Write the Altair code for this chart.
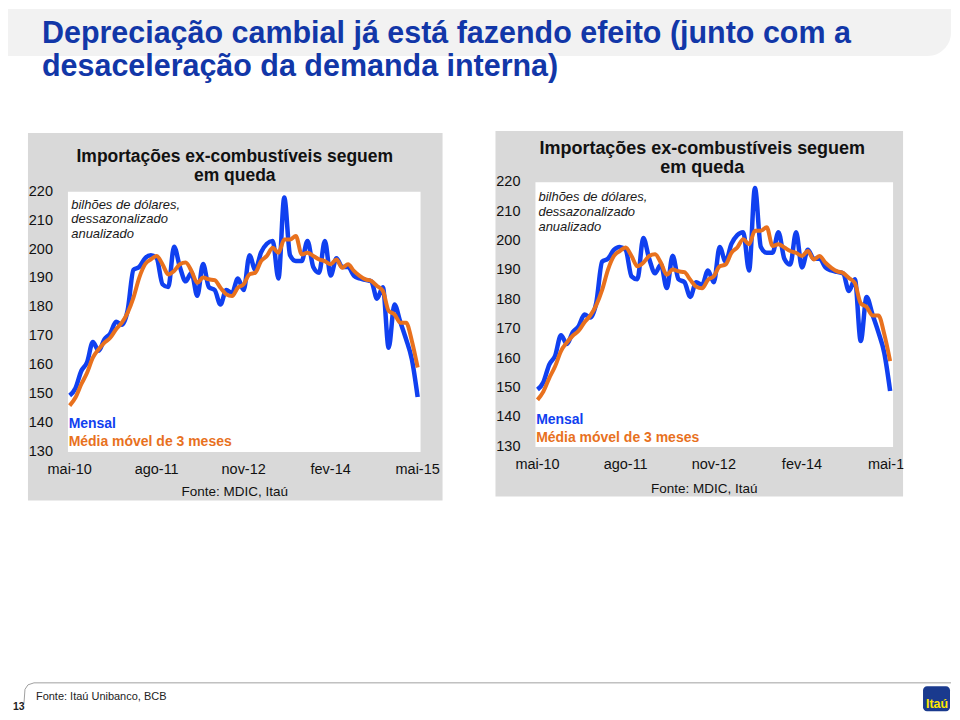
import altair as alt
import pandas as pd

# ---------------- data ----------------
mensal = [149.5, 152, 158, 161, 168, 165, 169, 171, 175, 174,
          179, 193, 194, 197, 198, 197, 188, 187, 201, 194,
          189, 192, 184, 195, 187, 186, 181, 186, 185, 190,
          186, 198, 193, 199, 202, 203, 190, 218, 198, 196,
          196, 203, 194, 192, 203, 191, 197, 194, 194, 191,
          190, 189.5, 189, 183, 187, 166, 181, 175, 169, 162,
          149]
media_movel = [146, 148.8, 153.4, 157.4, 162.6, 165.5, 167.8, 169.5, 172.4, 174.7,
               178.2, 183.4, 190.3, 194.9, 196.6, 197.8, 194.9, 191.4, 192.6, 194.9,
               195.5, 192.6, 188.5, 190.3, 189.7, 189.4, 186.8, 184.5, 183.9, 186.8,
               188, 191.4, 192, 196, 197.8, 200.6, 198.9, 203.5, 203.5, 204.7,
               198.3, 198.9, 197.8, 196.6, 196, 194.9, 196.6, 193.7, 194.9, 192.6,
               190.9, 189.7, 189.1, 187.4, 185.7, 178.8, 177.6, 174.7, 174.7, 168.4,
               159.2]
serie_nomes = ["Mensal", "Média móvel de 3 meses"]
x_tick_meses = [0, 15, 30, 45, 60]
x_tick_rotulos = ["mai-10", "ago-11", "nov-12", "fev-14", "mai-15"]
y_ticks = [130, 140, 150, 160, 170, 180, 190, 200, 210, 220]
y_faixa = [130, 220]

titulo = ["Depreciação cambial já está fazendo efeito (junto com a",
          "desaceleração da demanda interna)"]
painel_titulo = ["Importações ex-combustíveis seguem", "em queda"]
nota = ["bilhões de dólares,", "dessazonalizado", "anualizado"]
fonte_painel = "Fonte: MDIC, Itaú"
fonte_slide = "Fonte: Itaú Unibanco, BCB"
pagina = "13"
logo = "Itaú"

# ---------------- styles ----------------
BLUE = "#1040F0"
ORANGE = "#E8711E"
GRAY = "#D9D9D9"
TITLE_BLUE = "#1237A8"
FONT = "Liberation Sans"

meses = list(range(len(mensal)))
df = pd.DataFrame({
    "mes": meses + meses,
    "valor": mensal + media_movel,
    "serie": [serie_nomes[0]] * len(mensal) + [serie_nomes[1]] * len(media_movel),
})
ticks_y = pd.DataFrame({"v": y_ticks})
ticks_x = pd.DataFrame({"m": x_tick_meses, "rot": x_tick_rotulos})
faixa = pd.DataFrame({"lo": [y_faixa[0]], "hi": [y_faixa[1]]})


def one():
    return alt.Data(values=[{"k": 1}])


def txt(text, x, y, **kw):
    kw.setdefault("font", FONT)
    return alt.Chart(one()).mark_text(**kw).encode(
        x=alt.value(x), y=alt.value(y), text=alt.value(text))


def box(x, x2, y, y2, color, **kw):
    return alt.Chart(one()).mark_rect(color=color, **kw).encode(
        x=alt.value(x), x2=alt.value(x2), y=alt.value(y), y2=alt.value(y2))


def seg(x, x2, y, y2, color, w=1):
    return alt.Chart(one()).mark_rule(color=color, strokeWidth=w).encode(
        x=alt.value(x), x2=alt.value(x2), y=alt.value(y), y2=alt.value(y2))


def painel(g, extra_before=(), extra_after=()):
    ox, oy, w, h = g["ox"], g["oy"], g["w"], g["h"]
    P = lambda X: X - ox
    Q = lambda Y: Y - oy
    xs = alt.Scale(domain=g["xdom"], nice=False, zero=False)
    ys = alt.Scale(domain=g["ydom"], nice=False, zero=False)

    layers = list(extra_before)
    b = g["box"]
    layers.append(box(P(b[0]), P(b[1]), Q(b[2]), Q(b[3]), GRAY))
    layers.append(alt.Chart(faixa).mark_rect(color="white").encode(
        x=alt.value(0), x2=alt.value(w),
        y=alt.Y("hi:Q", scale=ys, axis=None), y2="lo:Q"))

    base = alt.Chart(df).encode(
        x=alt.X("mes:Q", scale=xs, axis=None),
        y=alt.Y("valor:Q", scale=ys, axis=None),
        color=alt.Color("serie:N", scale=alt.Scale(domain=serie_nomes, range=[BLUE, ORANGE]),
                        legend=None),
    )
    layers.append(base.transform_filter(alt.datum.serie == serie_nomes[0])
                  .mark_line(strokeWidth=4.5, interpolate="monotone"))
    layers.append(base.transform_filter(alt.datum.serie == serie_nomes[1])
                  .mark_line(strokeWidth=4, interpolate="monotone"))

    layers.append(alt.Chart(ticks_y).mark_text(
        align="right", baseline="middle", fontSize=14.5, font=FONT, color="#111111").encode(
        x=alt.value(-15), y=alt.Y("v:Q", scale=ys, axis=None), text=alt.Text("v:Q")))
    layers.append(alt.Chart(ticks_x).mark_text(
        align="center", baseline="middle", fontSize=14.5, font=FONT, color="#111111").encode(
        x=alt.X("m:Q", scale=xs, axis=None), y=alt.value(Q(g["xlab_y"])), text="rot:N"))

    for line, yb in zip(painel_titulo, g["tit_y"]):
        layers.append(txt(line, P(g["tit_x"]), Q(yb), align="center", baseline="alphabetic",
                          fontSize=g["tit_size"], fontWeight="bold", color="#111111"))
    for line, yc in zip(nota, g["nota_y"]):
        layers.append(txt(line, P(g["nota_x"]), Q(yc), align="left", baseline="middle",
                          fontSize=13, fontStyle="italic", color="#1a1a1a"))
    for line, yc, col in zip(serie_nomes, g["leg_y"], [BLUE, ORANGE]):
        layers.append(txt(line, P(g["leg_x"]), Q(yc), align="left", baseline="middle",
                          fontSize=14, fontWeight="bold", color=col))
    layers.append(txt(fonte_painel, P(g["fonte"][0]), Q(g["fonte"][1]), align="center",
                      baseline="middle", fontSize=13.5, color="#111111"))

    for f in extra_after:
        layers.append(f(P, Q))
    return alt.layer(*layers).properties(width=w, height=h)


G_LEFT = dict(ox=68, oy=181.3, w=353, h=270, xdom=[-0.3, 60.5], ydom=[130, 223.3],
              box=(28, 443, 132, 500), tit_x=235, tit_y=[160.7, 180.5], tit_size=17.5,
              nota_x=71.3, nota_y=[204, 218.3, 233.3], leg_x=68.7, leg_y=[423.3, 441.7],
              fonte=(235, 491.7), xlab_y=469.3)
G_RIGHT = dict(ox=536, oy=181.3, w=358, h=265, xdom=[-0.35, 60.5], ydom=[130, 220],
               box=(496, 904, 130, 496), tit_x=703, tit_y=[153, 172], tit_size=18,
               nota_x=539, nota_y=[196.3, 210.7, 225.7], leg_x=536.7, leg_y=[419, 437.3],
               fonte=(705, 488), xlab_y=464.7)

LP = lambda X: X - G_LEFT["ox"]
LQ = lambda Y: Y - G_LEFT["oy"]
LINE_GRAY = "#A0A0A0"
slide = [
    box(LP(8), LP(952), LQ(8), LQ(711), "white"),
    box(LP(8), LP(952), LQ(8), LQ(55), "#F2F2F2", cornerRadiusBottomRight=28),
    txt(titulo[0], LP(42), LQ(42), align="left", baseline="alphabetic", fontSize=30.5,
        fontWeight="bold", color=TITLE_BLUE),
    txt(titulo[1], LP(42), LQ(75), align="left", baseline="alphabetic", fontSize=30.5,
        fontWeight="bold", color=TITLE_BLUE),
    seg(LP(34), LP(952), LQ(682.5), LQ(682.5), LINE_GRAY),
    seg(LP(28), LP(34), LQ(684.5), LQ(682.5), LINE_GRAY),
    seg(LP(25), LP(28), LQ(689), LQ(684.5), LINE_GRAY),
    seg(LP(24), LP(25), LQ(703), LQ(689), LINE_GRAY),
    txt(fonte_slide, LP(36), LQ(700), align="left", baseline="alphabetic", fontSize=11,
        color="#222222"),
    txt(pagina, LP(13), LQ(707), align="left", baseline="middle", fontSize=10.5,
        fontWeight="bold", color="#222222"),
    box(LP(924), LP(951), LQ(686), LQ(711), "#1A3A8E", cornerRadius=4),
    txt(logo, LP(938), LQ(704), align="center", baseline="middle", fontSize=12.5,
        fontWeight="bold", color="#FFE600"),
]

left = painel(G_LEFT, extra_before=slide)
right = painel(G_RIGHT, extra_after=[
    lambda P, Q: box(P(904.5), P(952), Q(455), Q(480), "white")])

chart = alt.hconcat(left, right, spacing=G_RIGHT["ox"] - G_LEFT["ox"] - G_LEFT["w"],
                    bounds="flush").properties(
    padding=0, background="white").configure_view(strokeWidth=0)

chart.save("out.html", embed_options={"renderer": "svg", "actions": False})
